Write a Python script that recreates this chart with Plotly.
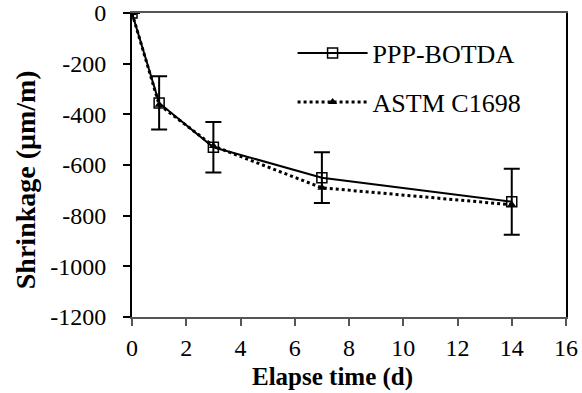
import plotly.graph_objects as go

days = [0, 1, 3, 7, 14]
botda = [0, -355, -530, -650, -745]
botda_err = [0, 105, 100, 100, 130]
astm = [0, -362, -525, -690, -757]

x_ticks = [0, 2, 4, 6, 8, 10, 12, 14, 16]
y_ticks = [0, -200, -400, -600, -800, -1000, -1200]
y_tick_text = [str(v) for v in y_ticks]

x_title = "<b>Elapse time (d)</b>"
y_title = "<b>Shrinkage (μm/m)</b>"

font_family = "Liberation Serif"

fig = go.Figure()
fig.add_trace(go.Scatter(
    x=days, y=botda, name="PPP-BOTDA", mode="lines+markers",
    line=dict(color="black", width=2),
    marker=dict(symbol="square-open", size=10, color="black", line=dict(width=1.5)),
    error_y=dict(type="data", array=botda_err, visible=True, color="black", thickness=2, width=8),
    legendgroup="a",
))
fig.add_trace(go.Scatter(
    x=days, y=astm, name="ASTM C1698", mode="lines+markers",
    line=dict(color="black", width=3, dash="dot"),
    marker=dict(symbol="triangle-up", size=8, color="black"),
    legendgroup="b",
))

fig.update_layout(
    width=582, height=393,
    margin=dict(l=132, r=16, t=13, b=76),
    paper_bgcolor="white", plot_bgcolor="white",
    font=dict(family=font_family, size=24, color="black"),
    showlegend=True,
    legend=dict(
        x=0.37, y=0.945, xanchor="left", yanchor="top",
        bgcolor="rgba(0,0,0,0)", font=dict(size=26),
        tracegroupgap=12, traceorder="grouped", itemwidth=70,
    ),
    xaxis=dict(
        range=[0, 16], tickvals=x_ticks, ticks="outside", ticklen=7, tickwidth=1.5,
        tickcolor="#555", showline=True, linecolor="#555", linewidth=2, mirror=True,
        showgrid=False, zeroline=False, automargin=False, ticklabelstandoff=1,
        tickfont=dict(size=24),
    ),
    yaxis=dict(
        range=[-1200, 0], tickvals=y_ticks, ticktext=y_tick_text, ticks="outside",
        ticklen=7, tickwidth=1.5,
        tickcolor="black", showline=True, linecolor="black", linewidth=2, mirror=True,
        showgrid=False, zeroline=False, automargin=False, ticklabelstandoff=12,
        tickfont=dict(size=24),
    ),
    annotations=[
        dict(text=x_title, xref="paper", yref="paper", x=0.463, y=-0.2484,
             xanchor="center", yanchor="bottom", showarrow=False, font=dict(size=25)),
        dict(text=y_title, xref="paper", yref="paper", x=-0.2465, y=0.45,
             xanchor="center", yanchor="middle", showarrow=False, textangle=-90,
             font=dict(size=28)),
    ],
)

fig.write_html("out.html")
